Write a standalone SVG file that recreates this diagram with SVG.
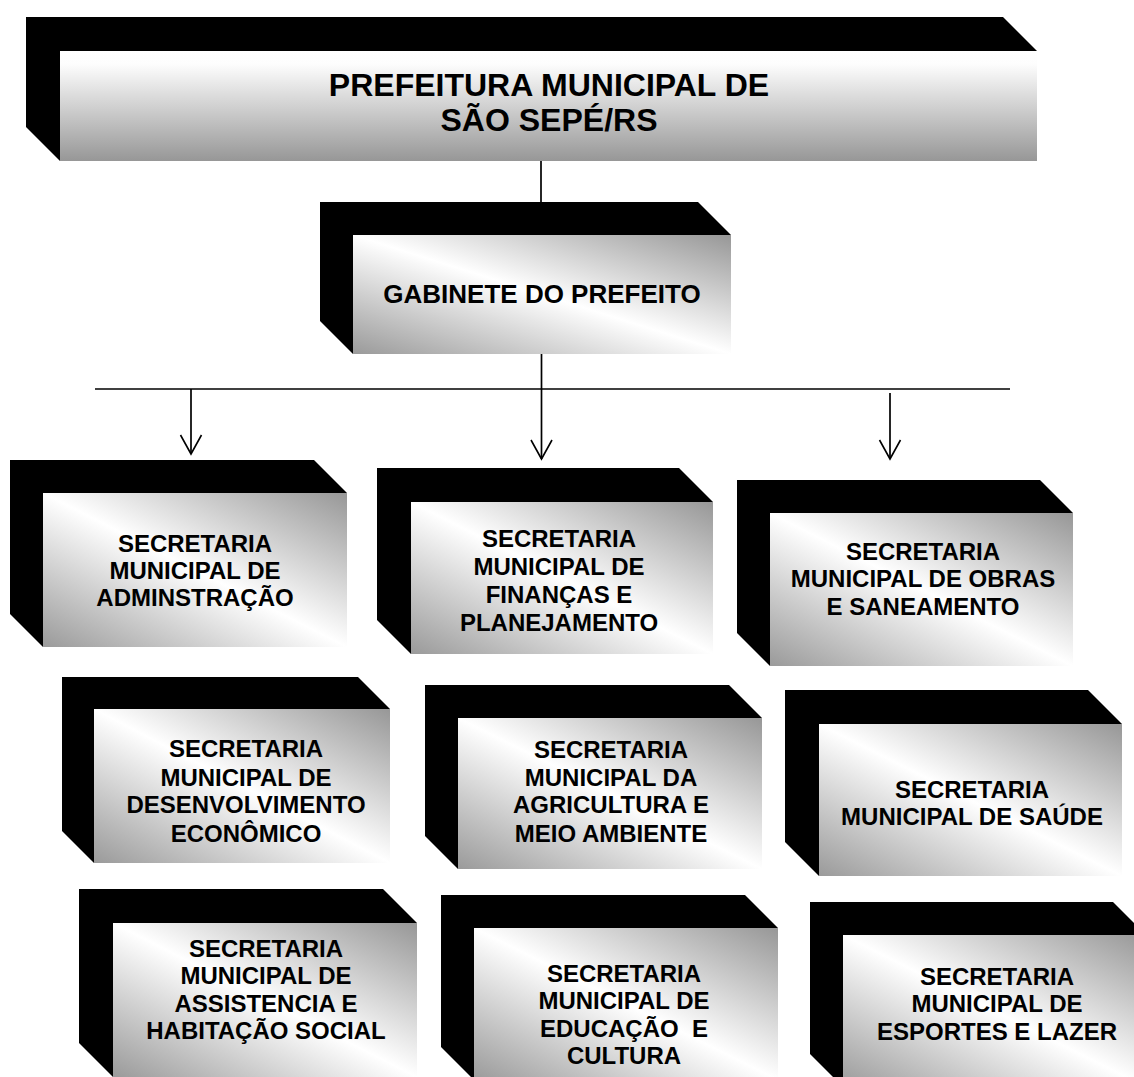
<svg xmlns="http://www.w3.org/2000/svg" width="1134" height="1077" viewBox="0 0 1134 1077">
<style>
.back{fill:#000}
.face{fill:url(#metal)}
.t{font-family:"Liberation Sans",Arial,sans-serif;font-weight:bold;font-size:24px;fill:#000;text-anchor:middle}
.conn{stroke:#000;stroke-width:1.7;fill:none}
</style>
<defs>
<linearGradient id="metal" x1="0" y1="1" x2="1" y2="0">
<stop offset="0" stop-color="#9a9a9a"/>
<stop offset="0.5" stop-color="#ffffff"/>
<stop offset="1" stop-color="#979797"/>
</linearGradient>
<linearGradient id="vert" x1="0" y1="0" x2="0" y2="1">
<stop offset="0" stop-color="#ffffff"/>
<stop offset="0.12" stop-color="#fdfdfd"/>
<stop offset="1" stop-color="#979797"/>
</linearGradient>
<marker id="arr" markerUnits="userSpaceOnUse" markerWidth="26" markerHeight="26" viewBox="-22 -13 24 26" refX="0" refY="0" orient="auto">
<path d="M-19,-10.5 L0,0 L-19,10.5" fill="none" stroke="#000" stroke-width="1.6"/>
</marker>
</defs>
<rect width="1134" height="1077" fill="#fff"/>

<g id="connectors">
<line class="conn" x1="541" y1="161" x2="541" y2="202"/>
<line class="conn" x1="95" y1="389" x2="1010" y2="389"/>
<line class="conn" x1="541.5" y1="354" x2="541.5" y2="459" marker-end="url(#arr)"/>
<line class="conn" x1="191" y1="389" x2="191" y2="454" marker-end="url(#arr)"/>
<line class="conn" x1="890" y1="393" x2="890" y2="459" marker-end="url(#arr)"/>
</g>

<g id="prefeitura">
<polygon class="back" points="26,17 1003,17 1037,51 1037,161 60,161 26,127"/>
<rect x="60" y="51" width="977" height="110" fill="url(#vert)"/>
<text class="t" style="font-size:32px" x="549" y="96">PREFEITURA MUNICIPAL DE</text>
<text class="t" style="font-size:32px" x="549" y="131">SÃO SEPÉ/RS</text>
</g>

<g id="gabinete">
<polygon class="back" points="320,202 698,202 731,235 731,354 353,354 320,321"/>
<rect class="face" x="353" y="235" width="378" height="119"/>
<text class="t" style="font-size:26px" x="542" y="303">GABINETE DO PREFEITO</text>
</g>

<g id="sec-administracao">
<polygon class="back" points="10,460 314,460 347,493 347,647 43,647 10,614"/>
<rect class="face" x="43" y="493" width="304" height="154"/>
<text class="t" x="195" y="552">SECRETARIA</text>
<text class="t" x="195" y="579">MUNICIPAL DE</text>
<text class="t" x="195" y="606">ADMINSTRAÇÃO</text>
</g>

<g id="sec-financas">
<polygon class="back" points="377,468 679,468 713,502 713,654 411,654 377,620"/>
<rect class="face" x="411" y="502" width="302" height="152"/>
<text class="t" x="559" y="547">SECRETARIA</text>
<text class="t" x="559" y="575">MUNICIPAL DE</text>
<text class="t" x="559" y="603">FINANÇAS E</text>
<text class="t" x="559" y="631">PLANEJAMENTO</text>
</g>

<g id="sec-obras">
<polygon class="back" points="737,480 1040,480 1073,513 1073,666 770,666 737,633"/>
<rect class="face" x="770" y="513" width="303" height="153"/>
<text class="t" x="923" y="560">SECRETARIA</text>
<text class="t" x="923" y="587">MUNICIPAL DE OBRAS</text>
<text class="t" x="923" y="615">E SANEAMENTO</text>
</g>

<g id="sec-desenvolvimento">
<polygon class="back" points="62,677 358,677 390,709 390,863 94,863 62,831"/>
<rect class="face" x="94" y="709" width="296" height="154"/>
<text class="t" x="246" y="757">SECRETARIA</text>
<text class="t" x="246" y="786">MUNICIPAL DE</text>
<text class="t" x="246" y="813">DESENVOLVIMENTO</text>
<text class="t" x="246" y="842">ECONÔMICO</text>
</g>

<g id="sec-agricultura">
<polygon class="back" points="425,685 729,685 762,718 762,869 458,869 425,836"/>
<rect class="face" x="458" y="718" width="304" height="151"/>
<text class="t" x="611" y="758">SECRETARIA</text>
<text class="t" x="611" y="786">MUNICIPAL DA</text>
<text class="t" x="611" y="813">AGRICULTURA E</text>
<text class="t" x="611" y="842">MEIO AMBIENTE</text>
</g>

<g id="sec-saude">
<polygon class="back" points="785,690 1088,690 1122,724 1122,876 819,876 785,842"/>
<rect class="face" x="819" y="724" width="303" height="152"/>
<text class="t" x="972" y="798">SECRETARIA</text>
<text class="t" x="972" y="825">MUNICIPAL DE SAÚDE</text>
</g>

<g id="sec-assistencia">
<polygon class="back" points="79,889 383,889 417,923 417,1077 113,1077 79,1043"/>
<rect class="face" x="113" y="923" width="304" height="154"/>
<text class="t" x="266" y="957">SECRETARIA</text>
<text class="t" x="266" y="984">MUNICIPAL DE</text>
<text class="t" x="266" y="1012">ASSISTENCIA E</text>
<text class="t" x="266" y="1039">HABITAÇÃO SOCIAL</text>
</g>

<g id="sec-educacao">
<polygon class="back" points="441,895 745,895 778,928 778,1080 474,1080 441,1047"/>
<rect class="face" x="474" y="928" width="304" height="152"/>
<text class="t" x="624" y="982">SECRETARIA</text>
<text class="t" x="624" y="1009">MUNICIPAL DE</text>
<text class="t" x="624" y="1037" xml:space="preserve">EDUCAÇÃO  E</text>
<text class="t" x="624" y="1064">CULTURA</text>
</g>

<g id="sec-esportes">
<polygon class="back" points="810,902 1113,902 1146,935 1146,1087 843,1087 810,1054"/>
<rect class="face" x="843" y="935" width="303" height="152"/>
<text class="t" x="997" y="985">SECRETARIA</text>
<text class="t" x="997" y="1012">MUNICIPAL DE</text>
<text class="t" x="997" y="1040">ESPORTES E LAZER</text>
</g>
</svg>
